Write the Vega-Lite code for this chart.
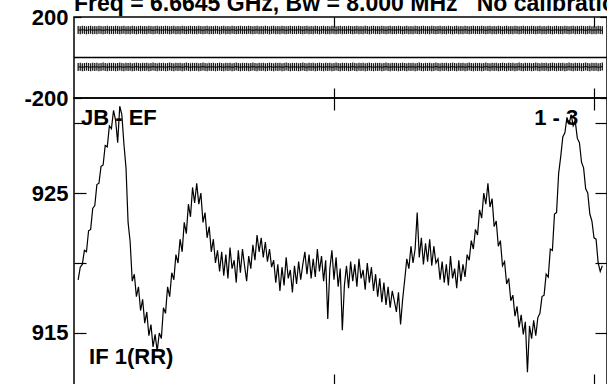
{
  "$schema": "https://vega.github.io/schema/vega-lite/v6.json",
  "padding": {"left": 23, "top": -7, "right": 0, "bottom": 0},
  "background": "white",
  "title": {"text": "Freq = 6.6645 GHz, Bw = 8.000 MHz\u00a0\u00a0\u00a0No calibration", "anchor": "start", "frame": "group", "font": "Liberation Sans", "fontSize": 23, "fontWeight": "bold", "color": "black", "offset": -11},
  "config": {
    "view": {"stroke": "black", "strokeWidth": 1.5},
    "axis": {"domain": false, "grid": false, "tickColor": "black", "tickWidth": 1.2, "labelFont": "Liberation Sans", "labelFontSize": 22, "labelFontWeight": "bold", "labelColor": "black", "title": null, "labelBound": false, "labelOverlap": false}
  },
  "spacing": 0,
  "bounds": "flush",
  "datasets": {
    "d": [
      {"c":8,"a":918.8,"p":136,"q":-47},{"c":12,"a":919.7,"p":135,"q":-46},{"c":16,"a":919.9,"p":137,"q":-48},{"c":20,"a":920.9,"p":136,"q":-47},
      {"c":24,"a":920.8,"p":134,"q":-45},{"c":28,"a":922.3,"p":136,"q":-47},{"c":32,"a":922.4,"p":137,"q":-48},{"c":36,"a":923.9,"p":135,"q":-46},
      {"c":40,"a":924.1,"p":136,"q":-47},{"c":44,"a":925.6,"p":135,"q":-46},{"c":48,"a":925.7,"p":137,"q":-48},{"c":52,"a":926.9,"p":136,"q":-47},
      {"c":56,"a":927.0,"p":134,"q":-45},{"c":60,"a":928.4,"p":136,"q":-47},{"c":64,"a":928.3,"p":137,"q":-48},{"c":68,"a":929.8,"p":135,"q":-46},
      {"c":72,"a":929.6,"p":136,"q":-47},{"c":76,"a":930.9,"p":135,"q":-46},{"c":80,"a":930.2,"p":137,"q":-48},{"c":84,"a":928.6,"p":136,"q":-47},
      {"c":88,"a":931.2,"p":134,"q":-45},{"c":92,"a":930.6,"p":136,"q":-47},{"c":96,"a":928.5,"p":137,"q":-48},{"c":100,"a":926.8,"p":135,"q":-46},
      {"c":104,"a":922.9,"p":136,"q":-47},{"c":108,"a":921.5,"p":135,"q":-46},{"c":112,"a":918.7,"p":137,"q":-48},{"c":116,"a":919.2,"p":136,"q":-47},
      {"c":120,"a":917.6,"p":134,"q":-45},{"c":124,"a":918.3,"p":136,"q":-47},{"c":128,"a":916.6,"p":137,"q":-48},{"c":132,"a":917.4,"p":135,"q":-46},
      {"c":136,"a":915.7,"p":136,"q":-47},{"c":140,"a":916.5,"p":135,"q":-46},{"c":144,"a":914.8,"p":137,"q":-48},{"c":148,"a":915.6,"p":136,"q":-47},
      {"c":152,"a":914.0,"p":134,"q":-45},{"c":156,"a":914.9,"p":136,"q":-47},{"c":160,"a":913.7,"p":137,"q":-48},{"c":164,"a":915.0,"p":135,"q":-46},
      {"c":168,"a":914.6,"p":136,"q":-47},{"c":172,"a":916.8,"p":135,"q":-46},{"c":176,"a":916.4,"p":137,"q":-48},{"c":180,"a":918.3,"p":136,"q":-47},
      {"c":184,"a":917.6,"p":134,"q":-45},{"c":188,"a":919.3,"p":136,"q":-47},{"c":192,"a":918.8,"p":137,"q":-48},{"c":196,"a":920.6,"p":135,"q":-46},
      {"c":200,"a":920.0,"p":136,"q":-47},{"c":204,"a":921.7,"p":135,"q":-46},{"c":208,"a":920.8,"p":137,"q":-48},{"c":212,"a":922.9,"p":136,"q":-47},
      {"c":216,"a":922.1,"p":134,"q":-45},{"c":220,"a":924.2,"p":136,"q":-47},{"c":224,"a":923.3,"p":137,"q":-48},{"c":228,"a":925.4,"p":135,"q":-46},
      {"c":232,"a":924.3,"p":136,"q":-47},{"c":236,"a":925.7,"p":135,"q":-46},{"c":240,"a":924.2,"p":137,"q":-48},{"c":244,"a":925.0,"p":136,"q":-47},
      {"c":248,"a":922.9,"p":134,"q":-45},{"c":252,"a":923.6,"p":136,"q":-47},{"c":256,"a":921.8,"p":137,"q":-48},{"c":260,"a":922.6,"p":135,"q":-46},
      {"c":264,"a":920.8,"p":136,"q":-47},{"c":268,"a":921.7,"p":135,"q":-46},{"c":272,"a":920.0,"p":137,"q":-48},{"c":276,"a":920.9,"p":136,"q":-47},
      {"c":280,"a":919.4,"p":134,"q":-45},{"c":284,"a":920.8,"p":136,"q":-47},{"c":288,"a":919.1,"p":137,"q":-48},{"c":292,"a":920.6,"p":135,"q":-46},
      {"c":296,"a":918.9,"p":136,"q":-47},{"c":300,"a":921.1,"p":135,"q":-46},{"c":304,"a":919.6,"p":137,"q":-48},{"c":308,"a":920.2,"p":136,"q":-47},
      {"c":312,"a":918.6,"p":134,"q":-45},{"c":316,"a":920.9,"p":136,"q":-47},{"c":320,"a":919.3,"p":137,"q":-48},{"c":324,"a":921.0,"p":135,"q":-46},
      {"c":328,"a":919.8,"p":136,"q":-47},{"c":332,"a":918.7,"p":135,"q":-46},{"c":336,"a":920.5,"p":137,"q":-48},{"c":340,"a":919.6,"p":136,"q":-47},
      {"c":344,"a":921.3,"p":134,"q":-45},{"c":348,"a":920.2,"p":136,"q":-47},{"c":352,"a":922.0,"p":137,"q":-48},{"c":356,"a":920.8,"p":135,"q":-46},
      {"c":360,"a":921.8,"p":136,"q":-47},{"c":364,"a":920.4,"p":135,"q":-46},{"c":368,"a":921.5,"p":137,"q":-48},{"c":372,"a":920.1,"p":136,"q":-47},
      {"c":376,"a":921.0,"p":134,"q":-45},{"c":380,"a":919.7,"p":136,"q":-47},{"c":384,"a":920.2,"p":137,"q":-48},{"c":388,"a":918.6,"p":135,"q":-46},
      {"c":392,"a":919.9,"p":136,"q":-47},{"c":396,"a":918.0,"p":135,"q":-46},{"c":400,"a":919.7,"p":137,"q":-48},{"c":404,"a":918.4,"p":136,"q":-47},
      {"c":408,"a":920.4,"p":134,"q":-45},{"c":412,"a":918.9,"p":136,"q":-47},{"c":416,"a":919.5,"p":137,"q":-48},{"c":420,"a":917.9,"p":135,"q":-46},
      {"c":424,"a":919.8,"p":136,"q":-47},{"c":428,"a":918.5,"p":135,"q":-46},{"c":432,"a":920.1,"p":137,"q":-48},{"c":436,"a":918.8,"p":136,"q":-47},
      {"c":440,"a":919.9,"p":134,"q":-45},{"c":444,"a":920.8,"p":136,"q":-47},{"c":448,"a":919.2,"p":137,"q":-48},{"c":452,"a":920.6,"p":135,"q":-46},
      {"c":456,"a":918.9,"p":136,"q":-47},{"c":460,"a":920.3,"p":135,"q":-46},{"c":464,"a":919.0,"p":137,"q":-48},{"c":468,"a":921.0,"p":136,"q":-47},
      {"c":472,"a":919.4,"p":134,"q":-45},{"c":476,"a":920.5,"p":136,"q":-47},{"c":480,"a":918.7,"p":137,"q":-48},{"c":484,"a":920.2,"p":135,"q":-46},
      {"c":488,"a":916.0,"p":136,"q":-47},{"c":492,"a":919.6,"p":135,"q":-46},{"c":496,"a":920.9,"p":137,"q":-48},{"c":500,"a":918.8,"p":136,"q":-47},
      {"c":504,"a":920.4,"p":134,"q":-45},{"c":508,"a":918.3,"p":136,"q":-47},{"c":512,"a":919.6,"p":137,"q":-48},{"c":516,"a":915.2,"p":135,"q":-46},
      {"c":520,"a":918.4,"p":136,"q":-47},{"c":524,"a":919.8,"p":135,"q":-46},{"c":528,"a":918.2,"p":137,"q":-48},{"c":532,"a":920.1,"p":136,"q":-47},
      {"c":536,"a":918.7,"p":134,"q":-45},{"c":540,"a":919.9,"p":136,"q":-47},{"c":544,"a":918.3,"p":137,"q":-48},{"c":548,"a":920.3,"p":135,"q":-46},
      {"c":552,"a":918.9,"p":136,"q":-47},{"c":556,"a":919.5,"p":135,"q":-46},{"c":560,"a":918.1,"p":137,"q":-48},{"c":564,"a":920.0,"p":136,"q":-47},
      {"c":568,"a":918.6,"p":134,"q":-45},{"c":572,"a":919.7,"p":136,"q":-47},{"c":576,"a":918.0,"p":137,"q":-48},{"c":580,"a":919.2,"p":135,"q":-46},
      {"c":584,"a":917.6,"p":136,"q":-47},{"c":588,"a":918.9,"p":135,"q":-46},{"c":592,"a":917.2,"p":137,"q":-48},{"c":596,"a":918.6,"p":136,"q":-47},
      {"c":600,"a":917.0,"p":134,"q":-45},{"c":604,"a":918.3,"p":136,"q":-47},{"c":608,"a":916.8,"p":137,"q":-48},{"c":612,"a":918.0,"p":135,"q":-46},
      {"c":616,"a":917.3,"p":136,"q":-47},{"c":620,"a":916.5,"p":135,"q":-46},{"c":624,"a":917.9,"p":137,"q":-48},{"c":628,"a":915.6,"p":136,"q":-47},
      {"c":632,"a":917.4,"p":134,"q":-45},{"c":636,"a":918.8,"p":136,"q":-47},{"c":640,"a":920.3,"p":137,"q":-48},{"c":644,"a":919.6,"p":135,"q":-46},
      {"c":648,"a":921.2,"p":136,"q":-47},{"c":652,"a":920.0,"p":135,"q":-46},{"c":656,"a":921.0,"p":137,"q":-48},{"c":660,"a":923.6,"p":136,"q":-47},
      {"c":664,"a":920.4,"p":134,"q":-45},{"c":668,"a":921.8,"p":136,"q":-47},{"c":672,"a":919.9,"p":137,"q":-48},{"c":676,"a":921.4,"p":135,"q":-46},
      {"c":680,"a":920.1,"p":136,"q":-47},{"c":684,"a":921.7,"p":135,"q":-46},{"c":688,"a":919.8,"p":137,"q":-48},{"c":692,"a":921.2,"p":136,"q":-47},
      {"c":696,"a":920.0,"p":134,"q":-45},{"c":700,"a":920.3,"p":136,"q":-47},{"c":704,"a":918.8,"p":137,"q":-48},{"c":708,"a":920.1,"p":135,"q":-46},
      {"c":712,"a":918.6,"p":136,"q":-47},{"c":716,"a":919.9,"p":135,"q":-46},{"c":720,"a":918.4,"p":137,"q":-48},{"c":724,"a":920.5,"p":136,"q":-47},
      {"c":728,"a":918.9,"p":134,"q":-45},{"c":732,"a":919.6,"p":136,"q":-47},{"c":736,"a":918.2,"p":137,"q":-48},{"c":740,"a":920.2,"p":135,"q":-46},
      {"c":744,"a":918.7,"p":136,"q":-47},{"c":748,"a":919.9,"p":135,"q":-46},{"c":752,"a":919.0,"p":137,"q":-48},{"c":756,"a":920.6,"p":136,"q":-47},
      {"c":760,"a":920.2,"p":134,"q":-45},{"c":764,"a":921.6,"p":136,"q":-47},{"c":768,"a":921.0,"p":137,"q":-48},{"c":772,"a":922.4,"p":135,"q":-46},
      {"c":776,"a":922.0,"p":136,"q":-47},{"c":780,"a":923.8,"p":135,"q":-46},{"c":784,"a":923.2,"p":137,"q":-48},{"c":788,"a":925.0,"p":136,"q":-47},
      {"c":792,"a":924.2,"p":134,"q":-45},{"c":796,"a":925.7,"p":136,"q":-47},{"c":800,"a":924.0,"p":137,"q":-48},{"c":804,"a":924.6,"p":135,"q":-46},
      {"c":808,"a":922.6,"p":136,"q":-47},{"c":812,"a":923.0,"p":135,"q":-46},{"c":816,"a":921.2,"p":137,"q":-48},{"c":820,"a":921.6,"p":136,"q":-47},
      {"c":824,"a":919.8,"p":134,"q":-45},{"c":828,"a":920.1,"p":136,"q":-47},{"c":832,"a":918.5,"p":137,"q":-48},{"c":836,"a":918.9,"p":135,"q":-46},
      {"c":840,"a":917.3,"p":136,"q":-47},{"c":844,"a":917.7,"p":135,"q":-46},{"c":848,"a":916.2,"p":137,"q":-48},{"c":852,"a":916.9,"p":136,"q":-47},
      {"c":856,"a":915.4,"p":134,"q":-45},{"c":860,"a":916.3,"p":136,"q":-47},{"c":864,"a":914.9,"p":137,"q":-48},{"c":868,"a":915.8,"p":135,"q":-46},
      {"c":872,"a":912.2,"p":136,"q":-47},{"c":876,"a":915.5,"p":135,"q":-46},{"c":880,"a":914.6,"p":137,"q":-48},{"c":884,"a":915.9,"p":136,"q":-47},
      {"c":888,"a":914.8,"p":134,"q":-45},{"c":892,"a":916.1,"p":136,"q":-47},{"c":896,"a":916.4,"p":137,"q":-48},{"c":900,"a":917.6,"p":135,"q":-46},
      {"c":904,"a":917.7,"p":136,"q":-47},{"c":908,"a":919.2,"p":135,"q":-46},{"c":912,"a":919.0,"p":137,"q":-48},{"c":916,"a":921.0,"p":136,"q":-47},
      {"c":920,"a":920.9,"p":134,"q":-45},{"c":924,"a":923.5,"p":136,"q":-47},{"c":928,"a":923.6,"p":137,"q":-48},{"c":932,"a":926.4,"p":135,"q":-46},
      {"c":936,"a":927.6,"p":136,"q":-47},{"c":940,"a":929.0,"p":135,"q":-46},{"c":944,"a":929.3,"p":137,"q":-48},{"c":948,"a":930.4,"p":136,"q":-47},
      {"c":952,"a":929.9,"p":134,"q":-45},{"c":956,"a":930.6,"p":136,"q":-47},{"c":960,"a":929.8,"p":137,"q":-48},{"c":964,"a":930.1,"p":135,"q":-46},
      {"c":968,"a":928.9,"p":136,"q":-47},{"c":972,"a":928.6,"p":135,"q":-46},{"c":976,"a":927.2,"p":137,"q":-48},{"c":980,"a":926.8,"p":136,"q":-47},
      {"c":984,"a":925.3,"p":134,"q":-45},{"c":988,"a":925.0,"p":136,"q":-47},{"c":992,"a":923.5,"p":137,"q":-48},{"c":996,"a":923.0,"p":135,"q":-46},
      {"c":1000,"a":921.8,"p":136,"q":-47},{"c":1004,"a":921.7,"p":135,"q":-46},{"c":1008,"a":920.0,"p":137,"q":-48},{"c":1012,"a":919.4,"p":136,"q":-47},
      {"c":1016,"a":919.8,"p":134,"q":-45}
    ],
    "labels": [
      {"t": "JB - EF", "c": 13.5, "a": 929.86},
      {"t": "1 - 3", "c": 885, "a": 929.86},
      {"t": "IF 1(RR)", "c": 29, "a": 912.79}
    ]
  },
  "vconcat": [
    {
      "width": 533,
      "height": 81,
      "resolve": {"axis": {"x": "independent", "y": "independent"}},
      "layer": [
        {
          "data": {"values": [{}]},
          "mark": {"type": "rule", "color": "black", "strokeWidth": 1.5},
          "encoding": {"y": {"datum": 0, "type": "quantitative", "scale": {"domain": [-200, 200], "nice": false, "zero": false}, "axis": null}}
        },
        {
          "data": {"name": "d"},
          "mark": {"type": "line", "color": "black", "strokeWidth": 1},
          "encoding": {
            "x": {"field": "c", "type": "quantitative", "scale": {"domain": [0, 1025], "nice": false, "zero": false}, "axis": null},
            "y": {"field": "p", "type": "quantitative", "scale": {"domain": [-200, 200], "nice": false, "zero": false}, "axis": null}
          }
        },
        {
          "data": {"name": "d"},
          "mark": {"type": "line", "color": "black", "strokeWidth": 1},
          "encoding": {
            "x": {"field": "c", "type": "quantitative", "axis": null},
            "y": {"field": "q", "type": "quantitative", "axis": null}
          }
        },
        {
          "data": {"name": "d"},
          "mark": {"type": "tick", "orient": "vertical", "size": 8, "thickness": 1.3, "color": "black", "opacity": 0.9},
          "encoding": {
            "x": {"field": "c", "type": "quantitative", "axis": {"orient": "bottom", "values": [500, 1000], "tickSize": -10, "labels": false}},
            "y": {"field": "p", "type": "quantitative", "axis": {"orient": "left", "values": [-200, 200], "tickSize": -7, "labelPadding": 13, "labelExpr": "replace(datum.label, '\u2212', '-')"}}
          }
        },
        {
          "data": {"name": "d"},
          "mark": {"type": "tick", "orient": "vertical", "size": 8, "thickness": 1.3, "color": "black", "opacity": 0.9},
          "encoding": {
            "x": {"field": "c", "type": "quantitative", "axis": {"orient": "top", "values": [500, 1000], "tickSize": -10, "labels": false}},
            "y": {"field": "q", "type": "quantitative", "axis": {"orient": "right", "values": [-200, 200], "tickSize": -7, "labels": false}}
          }
        }
      ]
    },
    {
      "width": 533,
      "height": 288,
      "resolve": {"axis": {"x": "independent", "y": "independent"}},
      "layer": [
        {
          "data": {"name": "d"},
          "mark": {"type": "line", "color": "black", "strokeWidth": 1.2},
          "encoding": {
            "x": {"field": "c", "type": "quantitative", "scale": {"domain": [0, 1025], "nice": false, "zero": false}, "axis": {"orient": "top", "values": [500, 1000], "tickSize": -12, "labels": false}},
            "y": {"field": "a", "type": "quantitative", "scale": {"domain": [911.21, 931.79], "nice": false, "zero": false}, "axis": {"orient": "left", "values": [915, 920, 925, 930], "tickSize": -12, "labelPadding": 18, "labelExpr": "datum.value == 915 || datum.value == 925 ? datum.label : ''"}}
          }
        },
        {
          "data": {"name": "labels"},
          "mark": {"type": "text", "align": "left", "baseline": "alphabetic", "font": "Liberation Sans", "fontSize": 22, "fontWeight": "bold", "color": "black"},
          "encoding": {
            "x": {"field": "c", "type": "quantitative", "axis": {"orient": "bottom", "values": [500, 1000], "tickSize": -12, "labels": false}},
            "y": {"field": "a", "type": "quantitative", "axis": {"orient": "right", "values": [915, 920, 925, 930], "tickSize": -12, "labels": false}},
            "text": {"field": "t", "type": "nominal"}
          }
        }
      ]
    }
  ]
}
